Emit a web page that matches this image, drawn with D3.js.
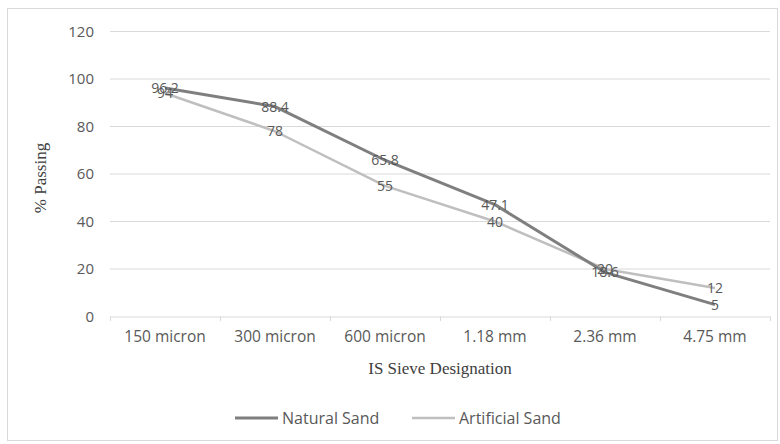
<!DOCTYPE html>
<html><head><meta charset="utf-8">
<script src="https://cdn.jsdelivr.net/npm/d3@7"></script>
<style>body{margin:0;background:#fff}</style>
</head><body>
<svg id="c" width="780" height="444"></svg>
<script>
const categories = ["150 micron","300 micron","600 micron","1.18 mm","2.36 mm","4.75 mm"];
const naturalSand = [96.2, 88.4, 65.8, 47.1, 18.6, 5];
const artificialSand = [94, 78, 55, 40, 20, 12];
const yTicks = [0,20,40,60,80,100,120];
const seriesNames = ["Natural Sand","Artificial Sand"];

const font = "Open Sans, sans-serif";
const serif = "Liberation Serif, Times New Roman, serif";
const svg = d3.select("#c");
svg.append("rect").attr("x",7.5).attr("y",8.5).attr("width",770).attr("height",432)
  .attr("fill","#fff").attr("stroke","#d9d9d9");

const x = d3.scaleBand().domain(categories).range([110,770]);
const y = d3.scaleLinear().domain([0,120]).range([316.5,31.5]);

svg.append("g").selectAll("line").data(yTicks.filter(d=>d>0)).join("line")
  .attr("x1",110).attr("x2",770).attr("y1",d=>y(d)).attr("y2",d=>y(d))
  .attr("stroke","#d9d9d9").attr("stroke-width",1);

const ya = svg.append("g").attr("transform","translate(100,0)")
  .call(d3.axisLeft(y).tickValues(yTicks).tickSize(0).tickPadding(6));
ya.select(".domain").remove();
ya.selectAll("text").attr("font-family",font).attr("font-size",15).attr("fill","#595959");

const xa = svg.append("g").attr("transform","translate(0,316.5)")
  .call(d3.axisBottom(x).tickSize(0).tickPadding(14));
xa.select(".domain").attr("stroke","#d9d9d9");
xa.selectAll("text").attr("font-family",font).attr("font-size",15.5).attr("fill","#595959");
svg.append("g").selectAll("line").data(categories.concat([null])).join("line")
  .attr("x1",(d,i)=>110+i*x.step()+0.5).attr("x2",(d,i)=>110+i*x.step()+0.5)
  .attr("y1",316.5).attr("y2",321).attr("stroke","#d9d9d9");

const line = d3.line().x((d,i)=>x(categories[i])+x.bandwidth()/2).y(d=>y(d));
svg.append("path").datum(artificialSand).attr("d",line).attr("fill","none")
  .attr("stroke","#bfbfbf").attr("stroke-width",2.5).attr("stroke-linejoin","round");
svg.append("path").datum(naturalSand).attr("d",line).attr("fill","none")
  .attr("stroke","#7f7f7f").attr("stroke-width",3).attr("stroke-linejoin","round");

function labels(data){
  svg.append("g").selectAll("text").data(data).join("text")
    .attr("x",(d,i)=>x(categories[i])+x.bandwidth()/2)
    .attr("y",d=>y(d)+5)
    .attr("text-anchor","middle").attr("font-family",font)
    .attr("font-size",14).attr("fill","#595959").text(d=>d);
}
labels(naturalSand);
labels(artificialSand);

svg.append("text").attr("x",440).attr("y",374).attr("text-anchor","middle")
  .attr("font-family",serif).attr("font-size",17)
  .attr("fill","#404040").text("IS Sieve Designation");
svg.append("text").attr("transform","translate(46,178) rotate(-90)").attr("text-anchor","middle")
  .attr("font-family",serif).attr("font-size",17)
  .attr("fill","#404040").text("% Passing");

const lg = [{n:seriesNames[0],c:"#7f7f7f",w:3,x:235},{n:seriesNames[1],c:"#bfbfbf",w:2.5,x:412}];
const g = svg.append("g").selectAll("g").data(lg).join("g");
g.append("line").attr("x1",d=>d.x).attr("x2",d=>d.x+43).attr("y1",418).attr("y2",418)
  .attr("stroke",d=>d.c).attr("stroke-width",d=>d.w);
g.append("text").attr("x",d=>d.x+47).attr("y",424).attr("font-family",font)
  .attr("font-size",16).attr("fill","#595959").text(d=>d.n);
</script>
</body></html>
